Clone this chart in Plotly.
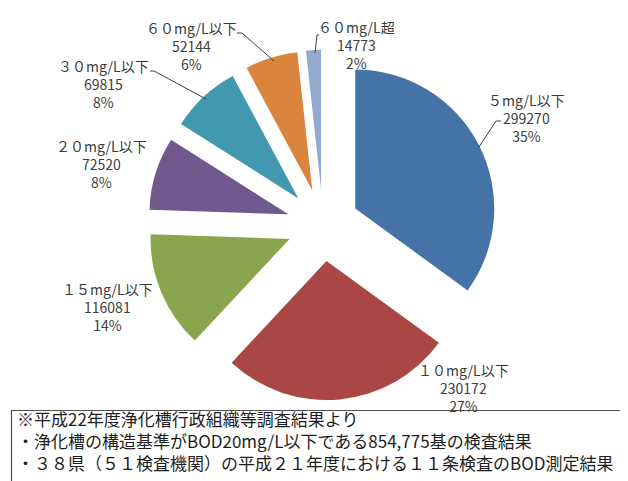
import plotly.graph_objects as go

W, H = 628, 481

# ---- data ----
categories = ["５mg/L以下", "１０mg/L以下", "１５mg/L以下", "２０mg/L以下",
              "３０mg/L以下", "６０mg/L以下", "６０mg/L超"]
counts = [299270, 230172, 116081, 72520, 69815, 52144, 14773]
note_lines = [
    "※平成22年度浄化槽行政組織等調査結果より",
    "・浄化槽の構造基準がBOD20mg/L以下である854,775基の検査結果",
    "・３８県（５１検査機関）の平成２１年度における１１条検査のBOD測定結果",
]

# ---- styles / positions ----
colors = ["#4572A7", "#AA4643", "#89A54E", "#71588F", "#4198AF", "#DB843D", "#93A9CF"]
label_pos = [(518, 110), (456, 380), (99, 299), (93, 156), (95, 76), (183, 38), (348, 37)]
leaders = [
    [(493, 113), (488, 113), (471, 139)],
    None, None, None,
    [(142, 63), (146, 63), (198, 91)],
    [(229, 25), (234, 25), (266, 53)],
    [(311, 27), (309, 27), (307, 45)],
]
FONT = "Noto Sans CJK JP"


def px(x):
    return x / W


def py(y):
    return 1 - y / H


total = sum(counts)
pcts = [round(v / total * 100) for v in counts]

fig = go.Figure(go.Pie(
    labels=categories,
    values=counts,
    sort=False,
    direction="clockwise",
    rotation=0,
    pull=[0.26] * len(counts),
    marker=dict(colors=colors, line=dict(width=0)),
    textinfo="none",
    hoverinfo="label+value+percent",
    showlegend=False,
    domain=dict(x=[139.8 / W, 490.2 / W], y=[1 - 392.2 / H, 1 - 41.8 / H]),
))

annotations = []
for cat, v, p, (x, y) in zip(categories, counts, pcts, label_pos):
    annotations.append(dict(
        x=px(x), y=py(y), xref="paper", yref="paper",
        text=f"<span style='color:#3a3a3a'>{cat}</span><br>{v}<br>{p}%",
        showarrow=False, xanchor="center", yanchor="middle", align="center",
        font=dict(family=FONT, size=14, color="#404040"),
    ))

annotations.append(dict(
    x=px(7), y=py(432), xref="paper", yref="paper", text="<br>".join(note_lines),
    showarrow=False, xanchor="left", yanchor="middle", align="left",
    font=dict(family=FONT, size=17, color="#1e1e1e"),
))

shapes = []
for pts in leaders:
    if not pts:
        continue
    for (x0, y0), (x1, y1) in zip(pts[:-1], pts[1:]):
        shapes.append(dict(type="line", xref="paper", yref="paper",
                           x0=px(x0), y0=py(y0), x1=px(x1), y1=py(y1),
                           line=dict(color="#404040", width=1)))

shapes.append(dict(type="rect", xref="paper", yref="paper",
                   x0=px(3.5), y0=py(490), x1=px(640), y1=py(402.5),
                   line=dict(color="#505050", width=1.2), layer="above"))

fig.update_layout(
    width=W, height=H,
    margin=dict(l=0, r=0, t=0, b=0),
    paper_bgcolor="white", plot_bgcolor="white",
    annotations=annotations, shapes=shapes,
    font=dict(family=FONT),
)

fig.write_html("out.html")
